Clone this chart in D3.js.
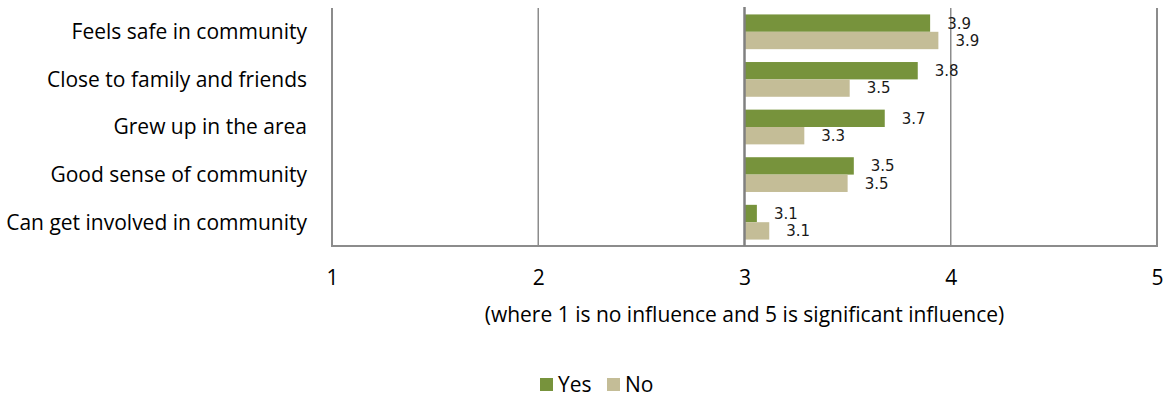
<!DOCTYPE html>
<html>
<head>
<meta charset="utf-8">
<script src="https://cdn.jsdelivr.net/npm/d3@7"></script>
<style>
  html, body { margin: 0; padding: 0; background: #fff; }
  svg { display: block; }
</style>
</head>
<body>
<svg id="chart" width="1165" height="397"></svg>
<script>
// Reasons for staying in the area, mean influence rating by group
const categories = [
  "Feels safe in community",
  "Close to family and friends",
  "Grew up in the area",
  "Good sense of community",
  "Can get involved in community"
];
const seriesNames = ["Yes", "No"];
const yesValues = [3.90, 3.84, 3.68, 3.53, 3.06];
const noValues  = [3.94, 3.51, 3.29, 3.50, 3.12];
const xTicks = [1, 2, 3, 4, 5];
const axisTitle = "(where 1 is no influence and 5 is significant influence)";
const colors = { Yes: "#77933C", No: "#C4BD97" };

const svg = d3.select("#chart");
const plot = { left: 332, right: 1157, top: 8, bottom: 246 };
const crossAt = 3;

const x = d3.scaleLinear().domain([1, 5]).range([plot.left, plot.right]);
const y = d3.scaleBand().domain(categories).range([plot.top, plot.bottom]).padding(0);
const inner = d3.scaleBand().domain(seriesNames).range([0, y.bandwidth()])
  .paddingInner(0).paddingOuter(0.37);

const uiFont = "'Open Sans', 'Noto Sans', sans-serif";
const uiSize = 21;

// vertical gridlines at each tick (the 3 line is drawn later as the axis)
svg.append("g").selectAll("line.grid")
  .data(xTicks.filter(t => t !== crossAt))
  .join("line")
  .attr("x1", d => x(d)).attr("x2", d => x(d))
  .attr("y1", plot.top).attr("y2", plot.bottom)
  .attr("stroke", "#8c8c8c").attr("stroke-width", d => (d === 1 || d === 5) ? 2 : 1.5);

// horizontal value axis line
svg.append("line")
  .attr("x1", plot.left - 1).attr("x2", plot.right + 1)
  .attr("y1", plot.bottom).attr("y2", plot.bottom)
  .attr("stroke", "#8c8c8c").attr("stroke-width", 2);

// bars
const rows = categories.map((c, i) => ({ cat: c, Yes: yesValues[i], No: noValues[i] }));
const groups = svg.append("g").selectAll("g.row").data(rows).join("g")
  .attr("transform", d => `translate(0,${y(d.cat)})`);

groups.selectAll("rect").data(d => seriesNames.map(s => ({ s, v: d[s] }))).join("rect")
  .attr("x", d => x(Math.min(crossAt, d.v)))
  .attr("y", d => inner(d.s))
  .attr("width", d => Math.abs(x(d.v) - x(crossAt)))
  .attr("height", inner.bandwidth())
  .attr("fill", d => colors[d.s]);

groups.selectAll("text").data(d => seriesNames.map(s => ({ s, v: d[s] }))).join("text")
  .attr("x", d => x(d.v) + 17)
  .attr("y", d => inner(d.s) + inner.bandwidth() / 2)
  .attr("dy", "0.36em")
  .attr("font-family", "'DejaVu Sans', sans-serif")
  .attr("font-size", 15)
  .attr("fill", "#1a1a1a")
  .text(d => d3.format(".1f")(d.v));

// vertical category axis crossing at 3
svg.append("line")
  .attr("x1", x(crossAt)).attr("x2", x(crossAt))
  .attr("y1", plot.top - 1).attr("y2", plot.bottom)
  .attr("stroke", "#808080").attr("stroke-width", 2.5);

// category labels
svg.append("g").selectAll("text").data(categories).join("text")
  .attr("x", 307)
  .attr("y", d => y(d) + y.bandwidth() / 2)
  .attr("dy", "0.35em")
  .attr("text-anchor", "end")
  .attr("font-family", uiFont)
  .attr("font-size", uiSize)
  .attr("fill", "#000")
  .text(d => d);

// horizontal axis tick labels
const xAxis = d3.axisBottom(x).tickValues(xTicks).tickSize(0).tickPadding(0).tickFormat(d3.format("d"));
const axisG = svg.append("g").attr("transform", `translate(0,${plot.bottom})`).call(xAxis);
axisG.select(".domain").remove();
axisG.selectAll("text")
  .attr("y", 32)
  .attr("dy", "0.35em")
  .attr("font-family", uiFont)
  .attr("font-size", uiSize)
  .attr("fill", "#000");

// axis title
svg.append("text")
  .attr("x", x(crossAt))
  .attr("y", 315)
  .attr("dy", "0.35em")
  .attr("text-anchor", "middle")
  .attr("font-family", uiFont)
  .attr("font-size", uiSize)
  .attr("fill", "#000")
  .text(axisTitle);

// legend
const legend = svg.append("g");
const legendItems = [{ s: "Yes", x: 540 }, { s: "No", x: 607 }];
legend.selectAll("rect").data(legendItems).join("rect")
  .attr("x", d => d.x).attr("y", 378)
  .attr("width", 13).attr("height", 13)
  .attr("fill", d => colors[d.s]);
legend.selectAll("text").data(legendItems).join("text")
  .attr("x", d => d.x + 18)
  .attr("y", 385)
  .attr("dy", "0.35em")
  .attr("font-family", uiFont)
  .attr("font-size", uiSize)
  .attr("fill", "#000")
  .text(d => d.s);
</script>
</body>
</html>
